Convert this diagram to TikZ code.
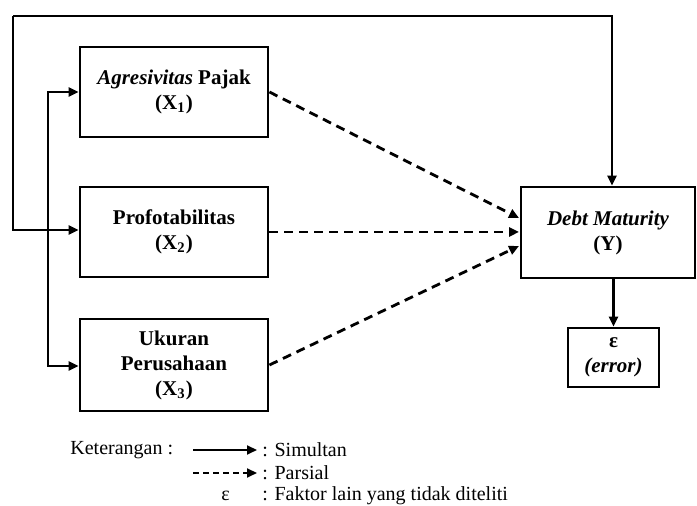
\documentclass[tikz,border=0pt]{standalone}
\usepackage{fontspec}
\setmainfont{Liberation Serif}
\usetikzlibrary{arrows.meta}
\begin{document}
\begin{tikzpicture}[x=0.5pt,y=-0.5pt,
  box/.style={draw,line width=1.4pt,align=center,font=\fontsize{10.5}{12.5}\selectfont\bfseries,inner sep=0pt},
  conn/.style={line width=1.4pt,-{Triangle[length=5pt,width=4.5pt]}},
  dconn/.style={line width=1.4pt,dash pattern=on 4.5pt off 3pt,-{Triangle[length=5pt,width=4.5pt]}},
  legtext/.style={font=\fontsize{10}{12}\selectfont,anchor=west,inner sep=0pt}]
\useasboundingbox (0,0) rectangle (697,506);
\node[box,minimum width=94pt,minimum height=45pt] (x1) at (174,92) {\textit{Agresivitas} Pajak\\(X\textsubscript{1})};
\node[box,minimum width=94pt,minimum height=45pt] (x2) at (174,232) {Profotabilitas\\(X\textsubscript{2})};
\node[box,minimum width=94pt,minimum height=46pt] (x3) at (174,365) {Ukuran\\Perusahaan\\(X\textsubscript{3})};
\node[box,minimum width=87pt,minimum height=45.5pt] (y) at (608,232.5) {\textit{Debt Maturity}\\(Y)};
\node[box,minimum width=45.5pt,minimum height=29.5pt] (e) at (613.5,357.5) {ε\\\textit{(error)}};
% outer loop
\coordinate (tl) at (13,16);
\coordinate (tr) at (612,16);
\coordinate (lb) at (13,230);
\draw[conn] (tl) -- (tr) -- (tr |- y.north);
\draw[conn] (tl) -- (lb) -- (x2.west |- lb);
% inner bracket
\coordinate (ia) at (48,92);
\coordinate (ib) at (48,366);
\draw[conn] (ib) -- (ia) -- (x1.west |- ia);
\draw[conn] (ia) -- (ib) -- (x3.west |- ib);
% dashed
\coordinate (d1) at (519,218);
\coordinate (d2) at (519,232);
\coordinate (d3) at (519,246);
\draw[dconn] (x1.east) -- (d1);
\draw[dconn] (x2.east) -- (d2);
\draw[dconn] (x3.east) -- (d3);
\draw[conn] (y.south -| e.north) -- (e.north);
% legend
\node[legtext] (k) at (70,450) {Keterangan :};
\coordinate (l1a) at (193,450);
\coordinate (l1b) at (257,450);
\draw[conn,line width=1pt] (l1a) -- (l1b);
\node[legtext] (s) at (262,450) {: Simultan};
\coordinate (l2a) at (193,473);
\coordinate (l2b) at (257,473);
\draw[dconn,line width=1pt,dash pattern=on 3pt off 2pt] (l2a) -- (l2b);
\node[legtext] (p) at (262,473) {: Parsial};
\node[legtext] (eps) at (221,496) {ε};
\node[legtext] (f) at (262,496) {: Faktor lain yang tidak diteliti};
\end{tikzpicture}
\end{document}
